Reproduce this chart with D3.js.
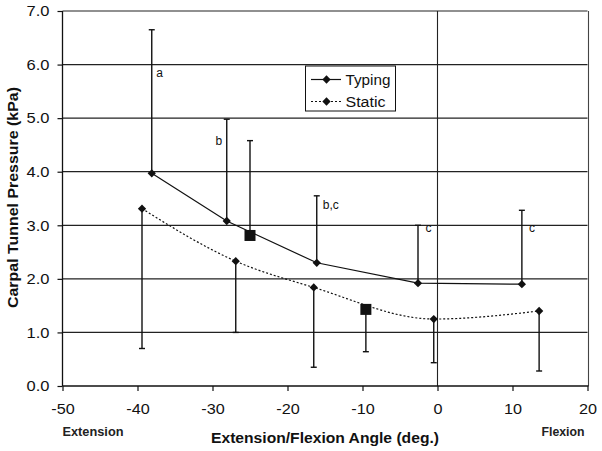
<!DOCTYPE html>
<html>
<head>
<meta charset="utf-8">
<script src="https://cdn.jsdelivr.net/npm/d3@7"></script>
<style>
body { margin: 0; background: #fff; }
svg { font-family: "Liberation Sans", Arial, sans-serif; }
</style>
</head>
<body>
<svg id="chart" width="602" height="451"></svg>
<script>
// ---- data ----
const typingAngle = [-38.1, -28.1, -16.1, -2.6, 11.25];
const typingPressure = [3.97, 3.08, 2.30, 1.92, 1.90];
const typingErrTop = [6.65, 4.98, 3.55, 3.00, 3.28];

const staticAngle = [-39.4, -26.9, -16.5, -0.5, 13.55];
const staticPressure = [3.31, 2.33, 1.84, 1.25, 1.40];
const staticErrBottom = [0.70, 1.00, 0.35, 0.435, 0.28];

const squareAngle = [-25.0, -9.55];
const squarePressure = [2.81, 1.43];
const squareErrEnd = [4.58, 0.64];

const annoText = ["a", "b", "b,c", "c", "c"];
const annoAngle = [-37.5, -29.6, -15.3, -1.6, 12.2];
const annoPressure = [5.76, 4.50, 3.30, 2.88, 2.88];

const xTicks = [-50, -40, -30, -20, -10, 0, 10, 20];
const yTicks = [0, 1, 2, 3, 4, 5, 6, 7];
const seriesNames = ["Typing", "Static"];

// ---- chart ----
const svg = d3.select("#chart");
const x = d3.scaleLinear().domain([-50, 20]).range([62.5, 587.5]);
const y = d3.scaleLinear().domain([0, 7]).range([386, 11]);
const ink = "#111";

function stretch(sel, k) {
  sel.each(function () {
    const w = this.getComputedTextLength();
    d3.select(this).attr("textLength", w * k).attr("lengthAdjust", "spacingAndGlyphs");
  });
}

// grid lines
svg.append("g").selectAll("line").data(yTicks.filter(d => d > 0)).join("line")
  .attr("x1", x(-50)).attr("x2", x(20))
  .attr("y1", d => y(d)).attr("y2", d => y(d))
  .attr("stroke", "#222").attr("stroke-width", 1.2);

// vertical zero line and right border
svg.append("line").attr("x1", x(0)).attr("x2", x(0)).attr("y1", y(0)).attr("y2", y(7))
  .attr("stroke", "#222").attr("stroke-width", 1.1);
svg.append("line").attr("x1", x(20) + 1).attr("x2", x(20) + 1).attr("y1", y(0)).attr("y2", y(7))
  .attr("stroke", "#444").attr("stroke-width", 1.1);

// axes
const xAxis = svg.append("g").attr("transform", `translate(0,${y(0)})`)
  .call(d3.axisBottom(x).tickValues(xTicks).tickSize(5).tickPadding(12).tickFormat(d => d.toFixed(0)));
const yAxis = svg.append("g").attr("transform", `translate(${x(-50)},0)`)
  .call(d3.axisLeft(y).tickValues(yTicks).tickSize(5).tickPadding(8).tickFormat(d => d.toFixed(1)));
[xAxis, yAxis].forEach(a => {
  a.select(".domain").attr("stroke", ink).attr("stroke-width", 1.3);
  a.selectAll(".tick line").attr("stroke", ink).attr("stroke-width", 1.2);
  a.selectAll("text").attr("fill", ink).style("font-size", "15px")
    .style("font-family", "'Liberation Sans', Arial, sans-serif");
});
xAxis.select(".domain").attr("d", `M${x(-50)},0H${x(20) + 1}`);
yAxis.select(".domain").attr("d", `M0,${y(0)}V${y(7)}`);
stretch(xAxis.selectAll(".tick text"), 1.08);
stretch(yAxis.selectAll(".tick text"), 1.1);

// error bars
const cap = 3;
function errBars(xs, ys, es) {
  const g = svg.append("g").attr("stroke", ink).attr("stroke-width", 1.4);
  xs.forEach((a, i) => {
    g.append("line").attr("x1", x(a)).attr("x2", x(a)).attr("y1", y(ys[i])).attr("y2", y(es[i]));
    g.append("line").attr("x1", x(a) - cap).attr("x2", x(a) + cap).attr("y1", y(es[i])).attr("y2", y(es[i]));
  });
}
errBars(typingAngle, typingPressure, typingErrTop);
errBars(staticAngle, staticPressure, staticErrBottom);
errBars(squareAngle, squarePressure, squareErrEnd);

// lines
const typingPts = typingAngle.map((a, i) => [a, typingPressure[i]]);
const staticPts = staticAngle.map((a, i) => [a, staticPressure[i]]);
svg.append("path").datum(typingPts)
  .attr("d", d3.line().x(d => x(d[0])).y(d => y(d[1])))
  .attr("fill", "none").attr("stroke", ink).attr("stroke-width", 1.2);
svg.append("path").datum(staticPts)
  .attr("d", d3.line().x(d => x(d[0])).y(d => y(d[1])).curve(d3.curveMonotoneX))
  .attr("fill", "none").attr("stroke", ink).attr("stroke-width", 1.2).attr("stroke-dasharray", "2,2");

// markers
const diamond = d3.symbol().type(d3.symbolDiamond2).size(44);
[typingPts, staticPts].forEach(pts => {
  svg.append("g").selectAll("path").data(pts).join("path")
    .attr("d", diamond).attr("transform", d => `translate(${x(d[0])},${y(d[1])})`)
    .attr("fill", ink);
});
svg.append("g").selectAll("rect").data(squareAngle).join("rect")
  .attr("x", d => x(d) - 5.5).attr("y", (d, i) => y(squarePressure[i]) - 5.5)
  .attr("width", 11).attr("height", 11).attr("fill", ink);

// annotations
svg.append("g").selectAll("text").data(annoText).join("text")
  .attr("x", (d, i) => x(annoAngle[i])).attr("y", (d, i) => y(annoPressure[i]))
  .style("font-size", "12px").attr("fill", ink).text(d => d);

// legend
const lg = svg.append("g");
lg.append("rect").attr("x", 305.5).attr("y", 66).attr("width", 90).attr("height", 45)
  .attr("fill", "#fff").attr("stroke", ink).attr("stroke-width", 1);
seriesNames.forEach((name, i) => {
  const yy = 79.5 + i * 22;
  lg.append("line").attr("x1", 311).attr("x2", 341).attr("y1", yy).attr("y2", yy)
    .attr("stroke", ink).attr("stroke-width", 1.2).attr("stroke-dasharray", i ? "2,2" : null);
  lg.append("path").attr("d", diamond).attr("transform", `translate(326.5,${yy})`).attr("fill", ink);
  lg.append("text").attr("x", 345.5).attr("y", yy + 5).style("font-size", "14px").attr("fill", ink)
    .text(name).attr("textLength", i ? 40 : 45).attr("lengthAdjust", "spacingAndGlyphs");
});

// axis titles
svg.append("text").attr("x", 325).attr("y", 443).attr("text-anchor", "middle")
  .style("font-size", "14px").style("font-weight", "bold").attr("fill", ink)
  .attr("textLength", 228).attr("lengthAdjust", "spacingAndGlyphs")
  .text("Extension/Flexion Angle (deg.)");
svg.append("text").attr("transform", "translate(17.5,197.5) rotate(-90)").attr("text-anchor", "middle")
  .style("font-size", "14px").style("font-weight", "bold").attr("fill", ink)
  .attr("textLength", 221).attr("lengthAdjust", "spacingAndGlyphs")
  .text("Carpal Tunnel Pressure (kPa)");
svg.append("text").attr("x", 62.5).attr("y", 435.5)
  .style("font-size", "12.5px").style("font-weight", "bold").attr("fill", "#222")
  .attr("textLength", 61).attr("lengthAdjust", "spacingAndGlyphs").text("Extension");
svg.append("text").attr("x", 541.5).attr("y", 435.5)
  .style("font-size", "12.5px").style("font-weight", "bold").attr("fill", "#222")
  .attr("textLength", 43).attr("lengthAdjust", "spacingAndGlyphs").text("Flexion");
</script>
</body>
</html>
